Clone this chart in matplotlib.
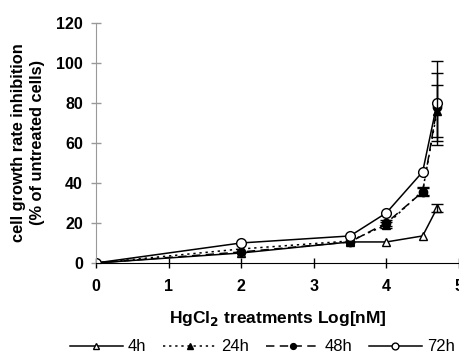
import numpy as np
import matplotlib
matplotlib.use("Agg")
from matplotlib import pyplot as plt

plt.rcParams['font.family'] = ['Liberation Sans', 'DejaVu Sans']

x = [0, 2, 3.5, 4, 4.5, 4.7]
h4 = [0, 5, 10.5, 10.5, 13.5, 27.5]
h24 = [0, 7, 11, 19, 36, 76]
h48 = [0, 5.5, 10.5, 20, 35.5, 78]
h72 = [0, 10, 13.5, 25, 45.5, 80]
err4 = [0, 0, 0, 0, 0, 2]
err24 = [0, 0, 0, 1.5, 2, 13]
err48 = [0, 0, 0, 1.5, 2, 17]
err72 = [0, 0, 0, 0, 0, 21]
labels = ['4h', '24h', '48h', '72h']

fig = plt.figure(figsize=(4.6, 3.53), dpi=100)
ax = fig.add_axes([0.2087, 0.255, 0.789, 0.681])

styles = [
    dict(ls='-', marker='^', mfc='white', ms=6),
    dict(ls=(0, (1.5, 2.5)), marker='^', mfc='black', ms=6),
    dict(ls=(0, (5.5, 3.5)), marker='o', mfc='black', ms=6),
    dict(ls='-', marker='o', mfc='white', ms=7),
]
series = [h4, h24, h48, h72]
errs = [err4, err24, err48, err72]

for y, e, st, lab in zip(series, errs, styles, labels):
    ax.plot(x, y, color='black', lw=1.1, mec='black', mew=1, label=lab, **st)
    e = np.array(e)
    m = e > 0
    ax.errorbar(np.array(x)[m], np.array(y)[m], yerr=e[m], fmt='none',
                ecolor='black', elinewidth=1, capsize=4, capthick=1)

ax.set_xlim(0, 5)
ax.set_ylim(0, 120)
ax.set_xticks(range(6))
ax.set_yticks(range(0, 121, 20))
ax.spines['top'].set_visible(False)
ax.spines['right'].set_visible(False)
ax.spines['left'].set_color('#999999')
ax.spines['bottom'].set_color('black')
ax.tick_params(axis='x', direction='inout', length=7, width=1, colors='black', pad=8)
ax.tick_params(axis='y', direction='inout', length=7, width=1, color='#999999', pad=6)
for t in ax.get_xticklabels() + ax.get_yticklabels():
    t.set_fontweight('bold')
    t.set_fontsize(11.5)
    t.set_color('black')

ax.set_xlabel('HgCl$_\\mathbf{2}$ treatments Log[nM]', fontsize=12.5, fontweight='bold', labelpad=11)
ax.set_ylabel('cell growth rate inhibition\n(% of untreated cells)', fontsize=11.8,
              fontweight='bold', labelpad=8, linespacing=1.3)

fig.legend(*ax.get_legend_handles_labels(), loc='center', bbox_to_anchor=(0.57, 0.017),
           ncol=4, frameon=False, fontsize=12, handlelength=3.2, columnspacing=1.0,
           handletextpad=0.3, markerscale=0.7, borderpad=0)

fig.savefig('out.png', dpi=100)
